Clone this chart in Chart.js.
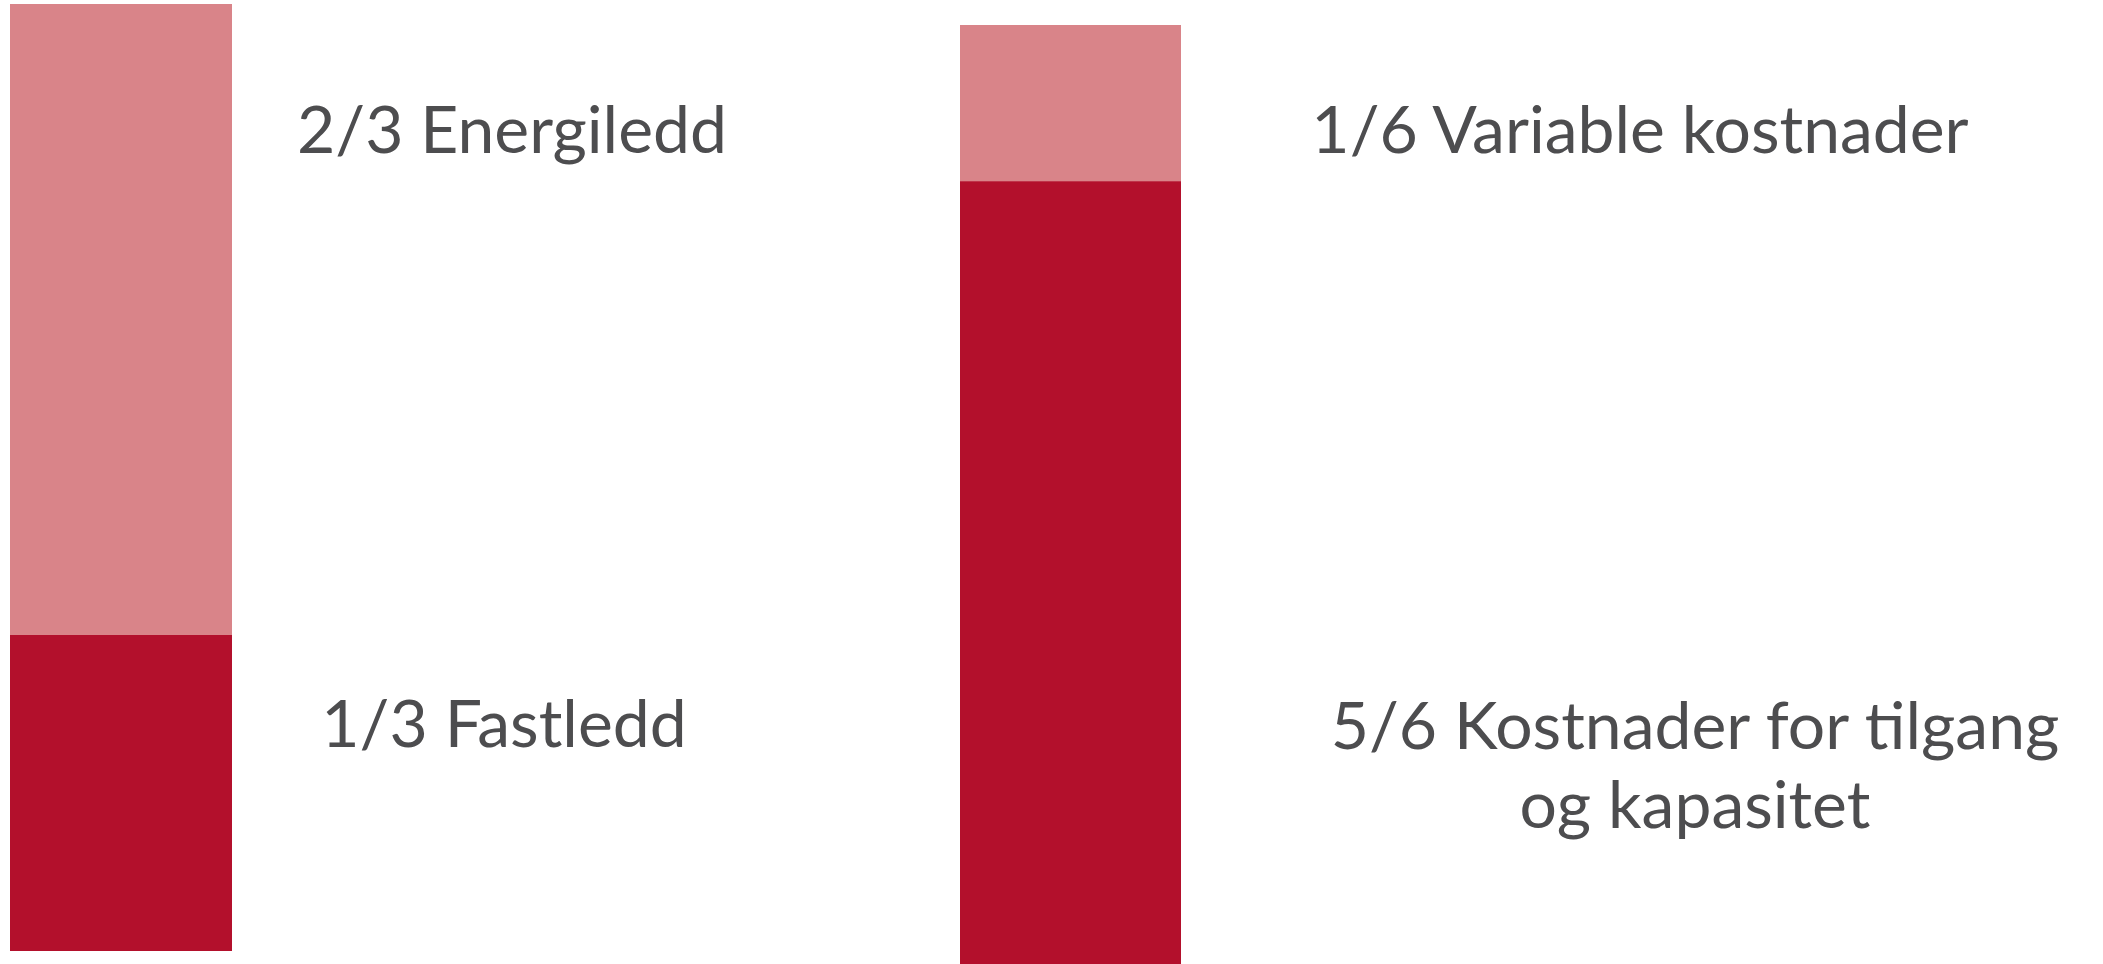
<!DOCTYPE html>
<html>
<head>
<meta charset="utf-8">
<script src="https://cdn.jsdelivr.net/npm/chart.js@4/dist/chart.umd.min.js"></script>
<style>
  html, body { margin: 0; padding: 0; background: #ffffff; }
  body { width: 2103px; height: 964px; position: relative; overflow: hidden; }
  .box { position: absolute; }
  .lbl { position: absolute; font-family: Lato, "Noto Sans", sans-serif; font-size: 66px; color: #4d4d4f; white-space: nowrap; text-align: center; line-height: 74px; transform: translateX(-50%); }
</style>
</head>
<body>
<div class="box" id="b1" style="left:10px; top:4px; width:222px; height:947px;"><canvas id="c1"></canvas></div>
<div class="box" id="b2" style="left:960px; top:25px; width:221px; height:939px;"><canvas id="c2"></canvas></div>

<div class="lbl" id="l1" style="left:512px; top:91px;"></div>
<div class="lbl" id="l2" style="left:504px; top:685px;"></div>
<div class="lbl" id="l3" style="left:1640px; top:91px;"></div>
<div class="lbl" id="l4" style="left:1695px; top:684px; line-height:79px;"></div>

<script>
// Data
const pricingCategories = ["Nettleie"];
const fastledd = [1/3];
const energiledd = [2/3];
const costCategories = ["Kostnader"];
const tilgangKapasitet = [5/6];
const variableKostnader = [1/6];
const labelsLeft = ["2/3 Energiledd", "1/3 Fastledd"];
const labelsRight = ["1/6 Variable kostnader", "5/6 Kostnader for tilgang\nog kapasitet"];

const DARK = "#b3102c";
const LIGHT = "#d98489";

function makeChart(id, cats, lower, upper) {
  return new Chart(document.getElementById(id), {
    type: "bar",
    data: {
      labels: cats,
      datasets: [
        { data: lower, backgroundColor: DARK, borderWidth: 0 },
        { data: upper, backgroundColor: LIGHT, borderWidth: 0 }
      ]
    },
    options: {
      responsive: true,
      maintainAspectRatio: false,
      animation: false,
      layout: { padding: 0 },
      plugins: { legend: { display: false }, tooltip: { enabled: false } },
      datasets: { bar: { barPercentage: 1, categoryPercentage: 1 } },
      scales: {
        x: { stacked: true, display: false },
        y: { stacked: true, display: false, min: 0, max: 1 }
      }
    }
  });
}

makeChart("c1", pricingCategories, fastledd, energiledd);
makeChart("c2", costCategories, tilgangKapasitet, variableKostnader);

function setLabel(id, text) {
  const el = document.getElementById(id);
  text.split("\n").forEach((line, i) => {
    if (i > 0) el.appendChild(document.createElement("br"));
    el.appendChild(document.createTextNode(line));
  });
}
setLabel("l1", labelsLeft[0]);
setLabel("l2", labelsLeft[1]);
setLabel("l3", labelsRight[0]);
setLabel("l4", labelsRight[1]);
</script>
</body>
</html>
